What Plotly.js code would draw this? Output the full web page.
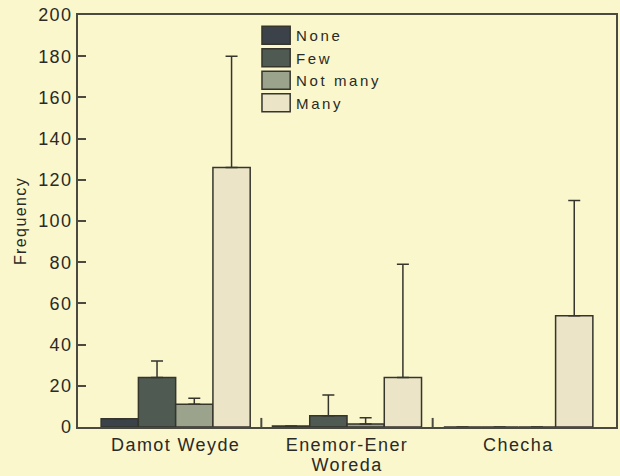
<!DOCTYPE html>
<html>
<head>
<meta charset="utf-8">
<script src="https://cdn.plot.ly/plotly-3.0.1.min.js"></script>
<style>
html,body{margin:0;padding:0;background:#faf7cc;}
svg text{letter-spacing:1.4px;}
svg text.legendtext{letter-spacing:2.6px;}
#chart .legendpoints path{transform:translate(20px,0px) scale(2.35,1.5);vector-effect:non-scaling-stroke;}
</style>
</head>
<body>
<div id="chart" style="width:620px;height:476px;"></div>
<script>
const categories = ["Damot Weyde", "Enemor-Ener", "Checha"];
const seriesNames = ["None", "Few", "Not many", "Many"];
const noneVals = [4, 0.5, 0];
const noneErr = [0, 0, 0];
const fewVals = [24, 5.5, 0];
const fewErr = [8, 10, 0];
const notManyVals = [11, 1.5, 0];
const notManyErr = [3, 3, 0];
const manyVals = [126, 24, 54];
const manyErr = [54, 55, 56];
const yTicks = [0, 20, 40, 60, 80, 100, 120, 140, 160, 180, 200];

const colors = ["#3b4249", "#4f5b52", "#9ca38d", "#ebe4c6"];
const vals = [noneVals, fewVals, notManyVals, manyVals];
const errs = [noneErr, fewErr, notManyErr, manyErr];
const lineCol = "#35352c";
const txtCol = "#2a2a26";
const fam = "Liberation Sans, Arial, sans-serif";

const traces = seriesNames.map((n, i) => ({
  type: "bar",
  name: n,
  x: categories,
  y: vals[i],
  marker: {color: colors[i], line: {color: lineCol, width: 1.5}},
  error_y: {
    type: "data", symmetric: false,
    array: errs[i], arrayminus: errs[i].map(() => 0),
    color: lineCol, thickness: 1.5, width: 6,
    visible: true
  }
}));

const layout = {
  width: 620, height: 476,
  margin: {l: 78, r: 4, t: 15, b: 49},
  paper_bgcolor: "#faf7cc",
  plot_bgcolor: "#faf7cc",
  font: {family: fam, size: 18, color: txtCol},
  barmode: "group",
  bargap: 0.13,
  bargroupgap: 0,
  showlegend: true,
  legend: {
    x: 0.331, y: 0.99, xanchor: "left", yanchor: "top",
    bgcolor: "rgba(0,0,0,0)", font: {family: fam, size: 15, color: txtCol},
    tracegroupgap: 0, itemwidth: 30
  },
  xaxis: {
    type: "category",
    range: [-0.57, 2.57],
    showline: true, linecolor: "#4a4a40", linewidth: 2, mirror: true,
    ticks: "", showgrid: false, zeroline: false,
    tickfont: {family: fam, size: 18, color: txtCol},
    title: {text: "Woreda", font: {family: fam, size: 18, color: txtCol}, standoff: 0}
  },
  yaxis: {
    range: [0, 200],
    tickvals: yTicks,
    ticktext: yTicks.map(String),
    ticks: "inside", ticklen: 8, tickwidth: 2, tickcolor: "#4a4a40",
    showline: true, linecolor: "#4a4a40", linewidth: 2, mirror: true,
    showgrid: false, zeroline: false,
    tickfont: {family: fam, size: 18, color: txtCol},
    title: {text: "Frequency", font: {family: fam, size: 16, color: txtCol}, standoff: 8}
  },
  shapes: [0.5, 1.5].map(b => ({
    type: "line", xref: "x", yref: "paper",
    x0: b, x1: b, y0: 0, y1: 0.022,
    line: {color: "#4a4a40", width: 2}
  }))
};

Plotly.newPlot("chart", traces, layout, {displayModeBar: false, staticPlot: true});
</script>
</body>
</html>
